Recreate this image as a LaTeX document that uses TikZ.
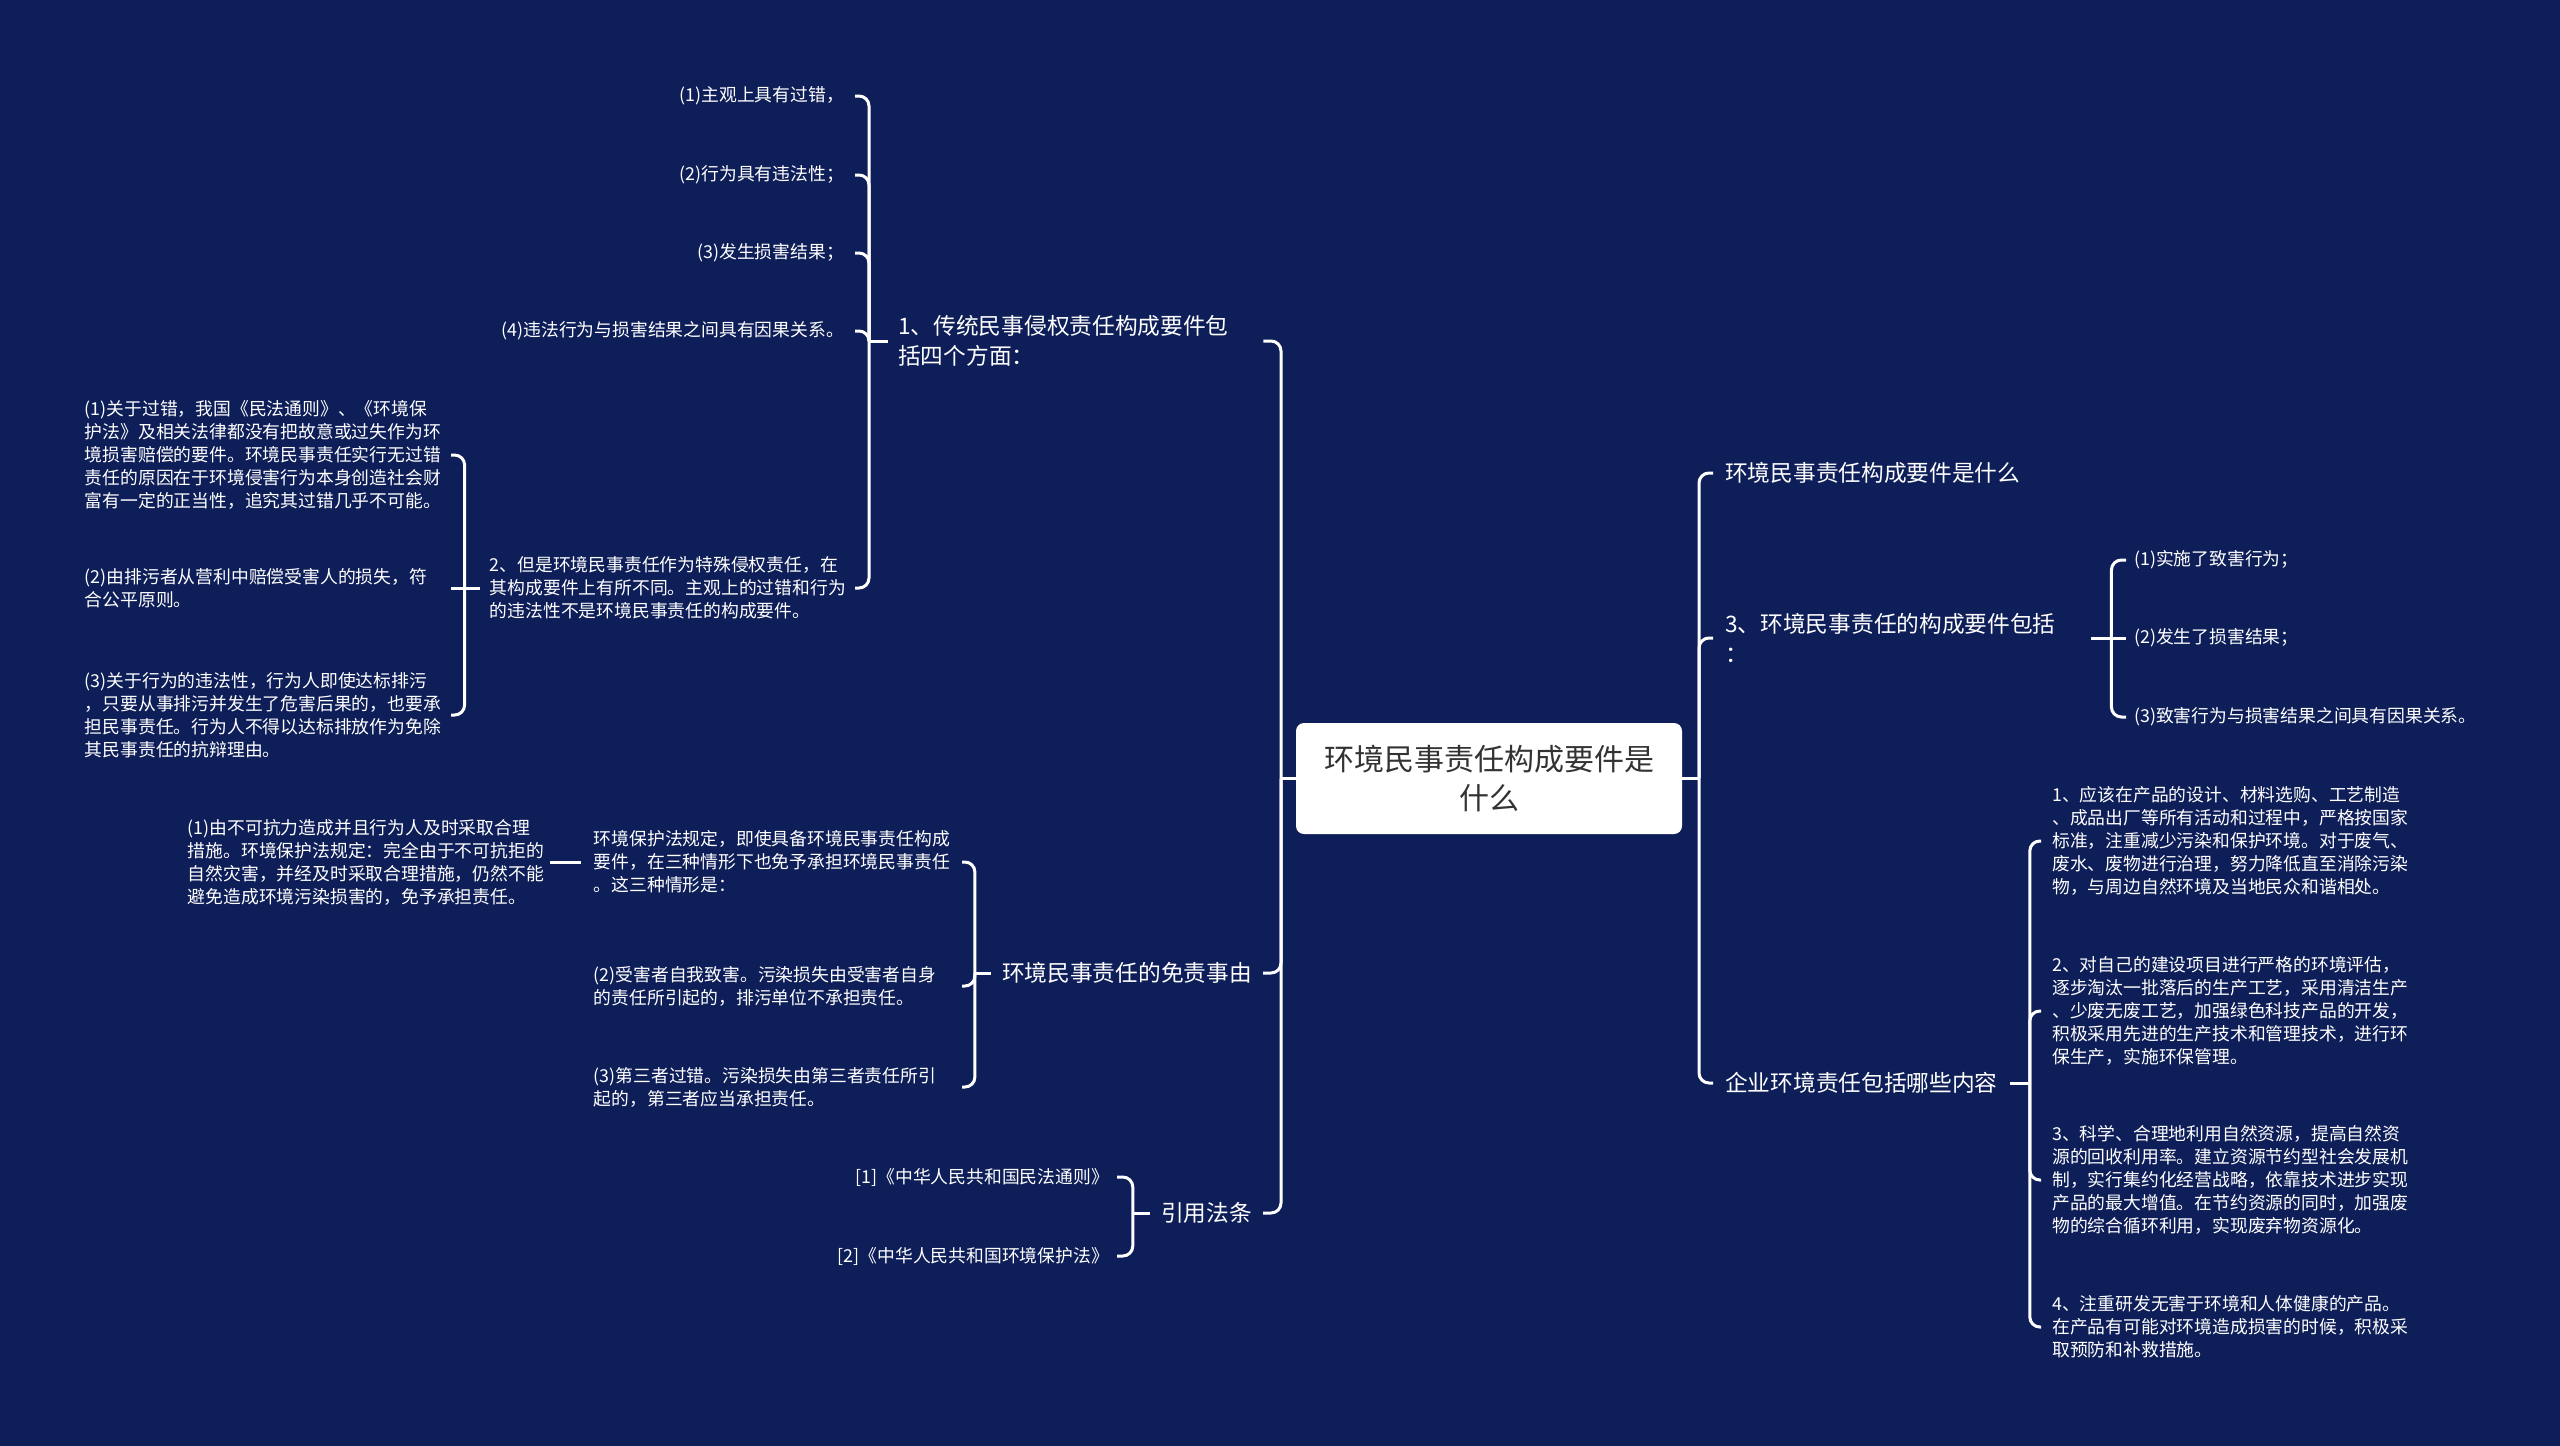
\documentclass[tikz,border=0pt]{standalone}
\usepackage{fontspec}
\setmainfont{Noto Sans CJK SC}
\usetikzlibrary{calc}
\definecolor{bg}{RGB}{14,30,88}
\definecolor{roottext}{RGB}{51,51,51}
\begin{document}
\begin{tikzpicture}[x=1pt,y=-1pt,
  link/.style={draw=white,line width=3pt,rounded corners=10pt},
  leaf/.style={text=white,font=\fontsize{17.8pt}{23pt}\selectfont,inner ysep=0pt},
  branch/.style={text=white,font=\fontsize{22.7pt}{29.4pt}\selectfont,inner ysep=0pt},
  rootbox/.style={fill=white,rounded corners=8pt,text=roottext,font=\fontsize{30pt}{39pt}\selectfont,align=center,minimum width=386pt,minimum height=111pt,inner sep=0pt}]
\fill[bg] (0,0) rectangle (2560,1446);
\useasboundingbox (0,0) rectangle (2560,1446);

% root
\node[rootbox] (root) at (1489,778.5) {环境民事责任构成要件是\\什么};
\coordinate (jL) at (1281,778.5);
\coordinate (jR) at (1699,778.5);
\draw[link] (root.west) -- (jL);
\draw[link] (root.east) -- (jR);

% left main branches
\node[branch,anchor=west,inner xsep=10pt,text width=355pt,align=left] (L1) at (888,341) {1、传统民事侵权责任构成要件包\\括四个方面：};
\node[branch,anchor=east,inner xsep=11pt] (L2) at (1263,973) {环境民事责任的免责事由};
\node[branch,anchor=east,inner xsep=11pt] (L3) at (1263,1213) {引用法条};
\draw[link] (jL) |- (L1.east);
\draw[link] (jL) |- (L2.east);
\draw[link] (jL) |- (L3.east);

% L1 children
\node[leaf,anchor=east,inner xsep=11pt] (a1) at (855,96) {(1)主观上具有过错，};
\node[leaf,anchor=east,inner xsep=11pt] (a2) at (855,175) {(2)行为具有违法性；};
\node[leaf,anchor=east,inner xsep=11pt] (a3) at (855,253) {(3)发生损害结果；};
\node[leaf,anchor=east,inner xsep=11pt] (a4) at (855,331) {(4)违法行为与损害结果之间具有因果关系。};
\node[leaf,anchor=east,inner xsep=10pt,text width=355pt,align=left] (L1b) at (855,588) {2、但是环境民事责任作为特殊侵权责任，在\\其构成要件上有所不同。主观上的过错和行为\\的违法性不是环境民事责任的构成要件。};
\coordinate (jL1) at ($(L1.west)+(-19,0)$);
\draw[link] (L1.west) -- (jL1);
\foreach \n in {a1,a2,a3,a4,L1b} \draw[link] (jL1) |- (\n.east);

% L1b children
\node[leaf,anchor=east,inner xsep=10pt,text width=356pt,align=left] (b1) at (451,455) {(1)关于过错，我国《民法通则》、《环境保\\护法》及相关法律都没有把故意或过失作为环\\境损害赔偿的要件。环境民事责任实行无过错\\责任的原因在于环境侵害行为本身创造社会财\\富有一定的正当性，追究其过错几乎不可能。};
\node[leaf,anchor=east,inner xsep=10pt,text width=356pt,align=left] (b2) at (451,588) {(2)由排污者从营利中赔偿受害人的损失，符\\合公平原则。};
\node[leaf,anchor=east,inner xsep=10pt,text width=356pt,align=left] (b3) at (451,715) {(3)关于行为的违法性，行为人即使达标排污\\，只要从事排污并发生了危害后果的，也要承\\担民事责任。行为人不得以达标排放作为免除\\其民事责任的抗辩理由。};
\coordinate (jL1b) at ($(L1b.west)+(-15,0)$);
\draw[link] (L1b.west) -- (jL1b);
\draw[link] (jL1b) |- (b1.east);
\draw[link] (jL1b) -- (b2.east);
\draw[link] (jL1b) |- (b3.east);

% L2 children
\node[leaf,anchor=east,inner xsep=13pt,text width=355pt,align=left] (M1) at (962,862) {环境保护法规定，即使具备环境民事责任构成\\要件，在三种情形下也免予承担环境民事责任\\。这三种情形是：};
\node[leaf,anchor=east,inner xsep=13pt,text width=355pt,align=left] (M2) at (962,986) {(2)受害者自我致害。污染损失由受害者自身\\的责任所引起的，排污单位不承担责任。};
\node[leaf,anchor=east,inner xsep=13pt,text width=355pt,align=left] (M3) at (962,1087) {(3)第三者过错。污染损失由第三者责任所引\\起的，第三者应当承担责任。};
\node[leaf,anchor=east,inner xsep=6pt,text width=356pt,align=left] (N1) at (550,862) {(1)由不可抗力造成并且行为人及时采取合理\\措施。环境保护法规定：完全由于不可抗拒的\\自然灾害，并经及时采取合理措施，仍然不能\\避免造成环境污染损害的，免予承担责任。};
\coordinate (jL2) at ($(L2.west)+(-16,0)$);
\draw[link] (L2.west) -- (jL2);
\foreach \n in {M1,M2,M3} \draw[link] (jL2) |- (\n.east);
\draw[link] (M1.west) -- (N1.east);

% L3 children
\node[leaf,anchor=east,inner xsep=8pt] (r1) at (1117,1177) {[1]《中华人民共和国民法通则》};
\node[leaf,anchor=east,inner xsep=8pt] (r2) at (1117,1256) {[2]《中华人民共和国环境保护法》};
\coordinate (jL3) at ($(L3.west)+(-17,0)$);
\draw[link] (L3.west) -- (jL3);
\foreach \n in {r1,r2} \draw[link] (jL3) |- (\n.east);

% right main branches
\node[branch,anchor=west,inner xsep=12pt] (R1) at (1713,473) {环境民事责任构成要件是什么};
\node[branch,anchor=west,inner xsep=12pt,text width=354pt,align=left] (R2) at (1713,638) {3、环境民事责任的构成要件包括\\：};
\node[branch,anchor=west,inner xsep=12pt] (R3) at (1713,1083) {企业环境责任包括哪些内容};
\foreach \n in {R1,R2,R3} \draw[link] (jR) |- (\n.west);

% R2 children
\node[leaf,anchor=west,inner xsep=8pt] (s1) at (2126,560) {(1)实施了致害行为；};
\node[leaf,anchor=west,inner xsep=8pt] (s2) at (2126,638) {(2)发生了损害结果；};
\node[leaf,anchor=west,inner xsep=8pt] (s3) at (2126,717) {(3)致害行为与损害结果之间具有因果关系。};
\coordinate (jR2) at ($(R2.east)+(20,0)$);
\draw[link] (R2.east) -- (jR2);
\draw[link] (jR2) |- (s1.west);
\draw[link] (jR2) -- (s2.west);
\draw[link] (jR2) |- (s3.west);

% R3 children
\node[leaf,anchor=west,inner xsep=11pt,text width=362pt,align=left] (c1) at (2041,841) {1、应该在产品的设计、材料选购、工艺制造\\、成品出厂等所有活动和过程中，严格按国家\\标准，注重减少污染和保护环境。对于废气、\\废水、废物进行治理，努力降低直至消除污染\\物，与周边自然环境及当地民众和谐相处。};
\node[leaf,anchor=west,inner xsep=11pt,text width=362pt,align=left] (c2) at (2041,1011) {2、对自己的建设项目进行严格的环境评估，\\逐步淘汰一批落后的生产工艺，采用清洁生产\\、少废无废工艺，加强绿色科技产品的开发，\\积极采用先进的生产技术和管理技术，进行环\\保生产，实施环保管理。};
\node[leaf,anchor=west,inner xsep=11pt,text width=362pt,align=left] (c3) at (2041,1180) {3、科学、合理地利用自然资源，提高自然资\\源的回收利用率。建立资源节约型社会发展机\\制，实行集约化经营战略，依靠技术进步实现\\产品的最大增值。在节约资源的同时，加强废\\物的综合循环利用，实现废弃物资源化。};
\node[leaf,anchor=west,inner xsep=11pt,text width=362pt,align=left] (c4) at (2041,1327) {4、注重研发无害于环境和人体健康的产品。\\在产品有可能对环境造成损害的时候，积极采\\取预防和补救措施。};
\coordinate (jR3) at ($(R3.east)+(20,0)$);
\draw[link] (R3.east) -- (jR3);
\foreach \n in {c1,c2,c3,c4} \draw[link] (jR3) |- (\n.west);
\end{tikzpicture}
\end{document}
